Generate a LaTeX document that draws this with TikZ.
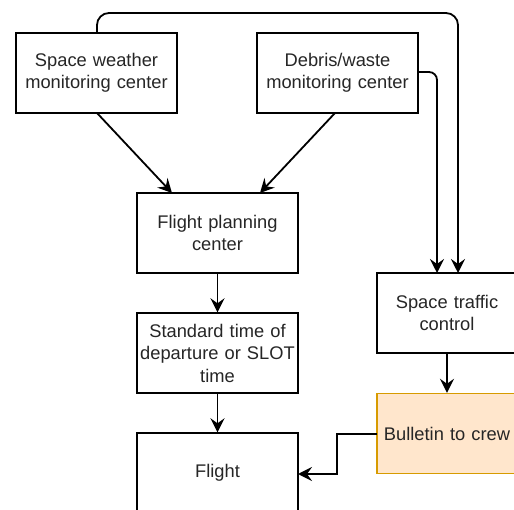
\documentclass[tikz,border=0pt]{standalone}
\usepackage{fontspec}
\setmainfont{Liberation Sans}
\usetikzlibrary{arrows.meta}
\definecolor{bulfill}{HTML}{FFE6CC}
\definecolor{buldraw}{HTML}{D79B00}
\tikzset{
  box/.style={draw=black, line width=1.4pt, fill=white, minimum height=80pt, inner sep=0pt,
    align=center, font=\fontsize{18.3}{22.5}\selectfont, text=black!85},
  wide/.style={minimum width=161pt, text width=158pt},
  narrow/.style={minimum width=140pt, text width=140pt},
  conn/.style={line width=1.8pt, -{Stealth[length=14pt, width=14pt, inset=5pt]}},
}
\begin{document}
\begin{tikzpicture}[x=1pt, y=-1pt]
\useasboundingbox (0,0) rectangle (514,510);
\node[box, wide] (sw) at (96.5,73) {Space weather\\monitoring center};
\node[box, wide] (deb) at (337.5,73) {Debris/waste\\monitoring center};
\node[box, wide] (fp) at (217.5,233) {Flight planning\\center};
\node[box, wide] (std) at (217.5,353) {Standard time of\\departure or SLOT\\time};
\node[box, wide] (fl) at (217.5,473) {Flight};
\node[box, narrow] (stc) at (447,313) {Space traffic\\control};
\node[box, narrow, fill=bulfill, draw=buldraw] (bul) at (447,433.5) {Bulletin to crew};

\coordinate (swtop) at (97,33);
\coordinate (stcr) at (458,273);
\coordinate (stcl) at (437,273);
\coordinate (debr) at (418,72);
\coordinate (swb) at (97,113);
\coordinate (debb) at (335,113);
\coordinate (fpl) at (172,193);
\coordinate (fpr) at (260,193);
\coordinate (flr) at (298,474);
\coordinate (bull) at (377,434);

\draw[conn, rounded corners=12pt] (swtop) |- (458,13) -- (stcr);
\draw[conn, rounded corners=8pt] (debr) -| (stcl);
\draw[conn] (swb) -- (fpl);
\draw[conn] (debb) -- (fpr);
\draw[conn] (fp.south) -- (std.north);
\draw[conn] (std.south) -- (fl.north);
\draw[conn] (stc.south) -- (bul.north);
\draw[conn] (bull) -- (337,434) -- (337,474) -- (flr);
\end{tikzpicture}
\end{document}
